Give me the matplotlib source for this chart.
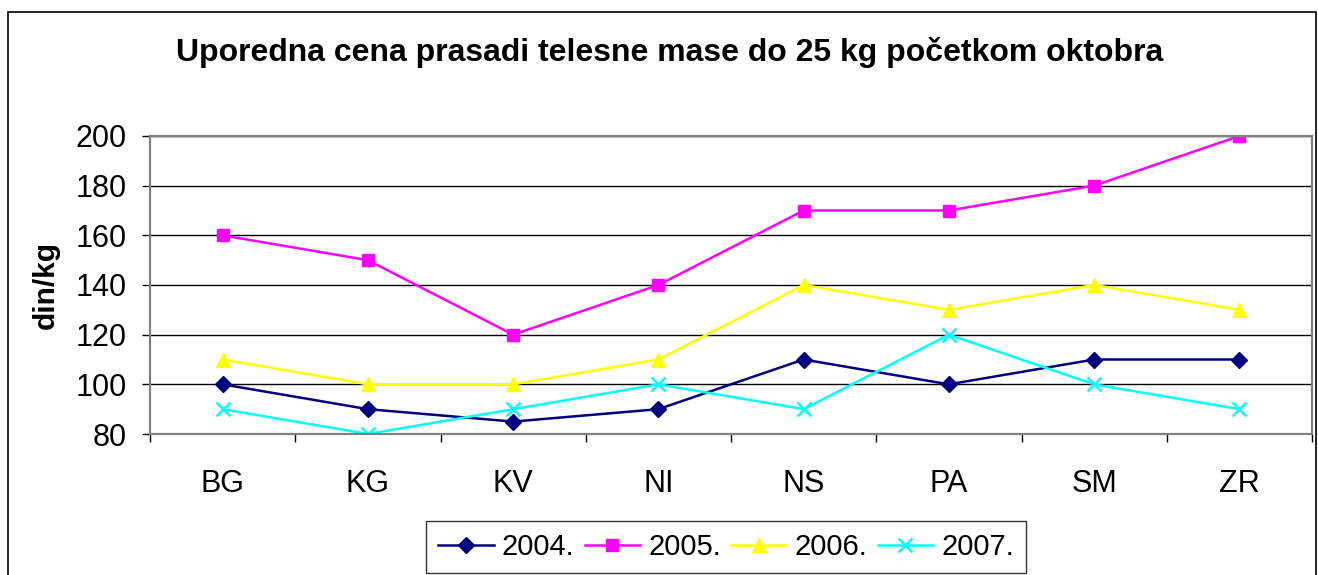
import matplotlib
matplotlib.use("Agg")
import matplotlib.pyplot as plt
from matplotlib.patches import Rectangle
import numpy as np

plt.rcParams['font.family'] = ['Liberation Sans', 'DejaVu Sans']

cities = ["BG", "KG", "KV", "NI", "NS", "PA", "SM", "ZR"]
y2004 = [100, 90, 85, 90, 110, 100, 110, 110]
y2005 = [160, 150, 120, 140, 170, 170, 180, 200]
y2006 = [110, 100, 100, 110, 140, 130, 140, 130]
y2007 = [90, 80, 90, 100, 90, 120, 100, 90]
years = ["2004.", "2005.", "2006.", "2007."]

fig = plt.figure(figsize=(13.18, 5.75), dpi=100)
# outer chart border
fig.patches.append(Rectangle((8/1318, -0.01), 1308/1318, 1 - 12/575 + 0.01,
                             transform=fig.transFigure, fill=False,
                             edgecolor="black", linewidth=1.2))

ax = fig.add_axes([150/1318, 1 - 434/575, 1162/1318, 298/575])
x = np.arange(len(cities))

ax.plot(x, y2004, color="#000080", marker="D", markersize=8, lw=1.8, label=years[0])
ax.plot(x, y2005, color="#FF00FF", marker="s", markersize=8, lw=1.8, label=years[1])
ax.plot(x, y2006, color="#FFFF00", marker="^", markersize=10, lw=1.8, label=years[2])
ax.plot(x, y2007, color="#00FFFF", marker="x", markersize=10, mew=1.8, lw=1.8, label=years[3])

ax.set_xlim(-0.5, len(cities) - 0.5)
ax.set_ylim(80, 200)
ax.set_yticks(range(80, 201, 20))
ax.yaxis.grid(True, color="black", lw=1)
ax.set_axisbelow(True)

ax.set_xticks(x)
ax.set_xticklabels(cities)
ax.set_xticks(np.arange(-0.5, len(cities), 1), minor=True)
ax.tick_params(axis="x", which="major", length=0, pad=25, labelsize=22)
ax.tick_params(axis="x", which="minor", length=6, width=1, color="black", direction="out")
ax.tick_params(axis="y", length=6, width=1, pad=11, labelsize=22, direction="out")

for s in ax.spines.values():
    s.set_color("#808080")
    s.set_linewidth(1.6)

ax.set_ylabel("din/kg", fontsize=21.5, fontweight="bold", labelpad=0)
ax.yaxis.set_label_coords(-90/1162, 0.5)

fig.text(670/1318, 1 - 53/575, "Uporedna cena prasadi telesne mase do 25 kg početkom oktobra",
         ha="center", va="center", fontsize=23, fontweight="bold")

leg = fig.legend(loc="center", bbox_to_anchor=(726/1318, 1 - 547/575), ncol=4,
                 fontsize=21, frameon=True, fancybox=False, edgecolor="black",
                 handlelength=1.9, handletextpad=0.28, columnspacing=0.35,
                 borderpad=0.4, borderaxespad=0)
leg.get_frame().set_linewidth(1)

fig.savefig("out.png", dpi=100)
